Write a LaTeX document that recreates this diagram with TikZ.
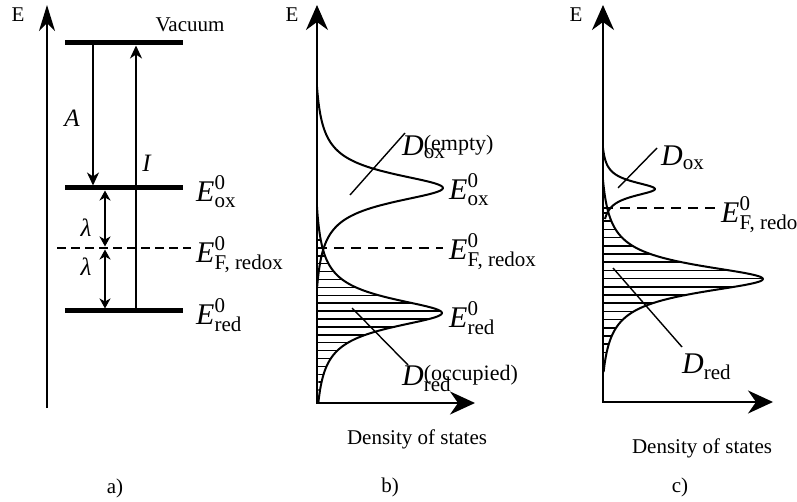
\documentclass[tikz,border=0pt]{standalone}
\usepackage{amsmath}
\usepackage{fontspec}
\setmainfont{Liberation Serif}
\usetikzlibrary{arrows.meta}

\begin{document}
\begin{tikzpicture}[x=1pt,y=-1pt,font=\fontsize{21}{25}\selectfont,
  declare function={lor(\t,\w,\m)=(\w*\w/(\t*\t+\w*\w)-\w*\w/(\m*\m+\w*\w))/(1-\w*\w/(\m*\m+\w*\w));},
  axisa/.style={line width=2pt,-{Stealth[length=26pt,width=16pt,inset=8pt]}},
  axisdos/.style={line width=2pt,{Stealth[length=25pt,width=22pt,inset=8pt]}-{Stealth[length=25pt,width=23pt,inset=8pt]}},
  level/.style={line width=5pt},
  jump/.style={line width=1.7pt,-{Stealth[length=13pt,width=12pt,inset=4pt]}},
  gap/.style={line width=1.7pt,{Stealth[length=10pt,width=11pt,inset=3pt]}-{Stealth[length=10pt,width=11pt,inset=3pt]}},
  curve/.style={line width=2pt,line join=round},
  hatch/.style={line width=1.5pt},
  leader/.style={line width=1.4pt},
  fermi/.style={line width=2.5pt,dash pattern=on 10pt off 7pt},
  lbl/.style={font=\fontsize{30}{34}\selectfont,anchor=west,inner sep=0pt},
  sym/.style={font=\fontsize{25}{29}\selectfont}]
\useasboundingbox (0,0) rectangle (797,502);

% a) energy levels
\draw[axisa] (47,408) -- (47,5);
\node (Ea) at (18,15) {E};
\foreach \y in {43,188,311} { \draw[level] (65,\y) -- (183,\y); }
\draw[line width=1.3pt,dash pattern=on 9pt off 5pt] (57,248) -- (191,248);
\node (vac) at (190,25) {Vacuum};
\coordinate (Atop) at (93,45);
\coordinate (Abot) at (93,185.5);
\coordinate (Ibot) at (136,309);
\coordinate (Itop) at (136,45.5);
\coordinate (lox) at (105,190.5);
\coordinate (lfa) at (105,246.5);
\coordinate (lfb) at (105,249.5);
\coordinate (lred) at (105,308.5);
\draw[jump] (Atop) -- (Abot);
\draw[jump] (Ibot) -- (Itop);
\draw[gap] (lox) -- (lfa);
\draw[gap] (lfb) -- (lred);
\node[sym] (A) at (72,118) {\textit{A}};
\node[sym] (I) at (147,163) {\textit{I}};
\node[sym] (lam1) at (86,228) {\textit{λ}};
\node[sym] (lam2) at (86,267) {\textit{λ}};
\node[lbl] (Eoxa) at (196,192) {$\textit{E}^{\text{0}}_{\text{ox}}$};
\node[lbl] (EFa) at (196,255) {$\textit{E}^{\text{0}}_{\text{F, redox}}$};
\node[lbl] (Ereda) at (196,315) {$\textit{E}^{\text{0}}_{\text{red}}$};
\node (capa) at (115,488) {a)};

% b) density of states
\begin{scope}
  \clip (317,207) -- plot[domain=-106:89,samples=160] ({317+125*lor(\x,18,106)},{313+\x}) -- cycle;
  \foreach \y in {240,247.9,...,403} { \draw[hatch] (317,\y) -- (470,\y); }
\end{scope}
\draw[curve] plot[domain=-101:100,samples=160] ({317+126*lor(\x,18,101)},{188+\x});
\draw[curve] plot[domain=-106:89,samples=160] ({317+125*lor(\x,18,106)},{313+\x});
\draw[fermi] (317,248) -- (443,248);
\draw[axisdos] (317,5) -- (317,403) -- (475,403);
\node (Eb) at (292,15) {E};
\node[lbl] (Eoxb) at (449,190) {$\textit{E}^{\text{0}}_{\text{ox}}$};
\node[lbl] (EFb) at (449,252) {$\textit{E}^{\text{0}}_{\text{F, redox}}$};
\node[lbl] (Eredb) at (449,318) {$\textit{E}^{\text{0}}_{\text{red}}$};
\node[lbl] (Doxb) at (402,147) {\textit{D}\rlap{$_{\text{ox}}$}{\fontsize{22}{26}\selectfont\raisebox{5pt}{(empty)}}};
\node[lbl] (Dredb) at (402,378) {\textit{D}\rlap{$_{\text{red}}$}{\fontsize{22}{26}\selectfont\raisebox{5pt}{(occupied)}}};
\coordinate (oxb-in) at (350,195);
\coordinate (oxb-out) at (405,133);
\coordinate (redb-in) at (352,308);
\coordinate (redb-out) at (408,365);
\draw[leader] (oxb-in) -- (oxb-out);
\draw[leader] (redb-in) -- (redb-out);
\node (dosb) at (417,439) {Density of states};
\node (capb) at (390,487) {b)};

% c) density of states, shifted levels
\begin{scope}
  \clip (603,180) -- plot[domain=-99:93,samples=160] ({603+160*lor(\x,17,99)},{279+\x}) -- cycle;
  \foreach \y in {213,221.2,...,403} { \draw[hatch] (603,\y) -- (780,\y); }
\end{scope}
\draw[curve] plot[domain=-41:30,samples=120] ({603+52*lor(\x,9,41)},{189+\x});
\draw[curve] plot[domain=-99:93,samples=160] ({603+160*lor(\x,17,99)},{279+\x});
\draw[fermi] (603,208) -- (721,208);
\draw[axisdos] (603,5) -- (603,402) -- (773,402);
\node (Ec) at (576,15) {E};
\node[lbl] (EFc) at (721,215) {$\textit{E}^{\text{0}}_{\text{F, redox}}$};
\node[lbl] (Doxc) at (661,158) {$\textit{D}_{\text{ox}}$};
\node[lbl] (Dredc) at (682,367) {$\textit{D}_{\text{red}}$};
\coordinate (oxc-in) at (618,188);
\coordinate (oxc-out) at (657,148);
\coordinate (redc-in) at (613,268);
\coordinate (redc-out) at (682,347);
\draw[leader] (oxc-in) -- (oxc-out);
\draw[leader] (redc-in) -- (redc-out);
\node (dosc) at (702,448) {Density of states};
\node (capc) at (680,487) {c)};
\end{tikzpicture}
\end{document}
